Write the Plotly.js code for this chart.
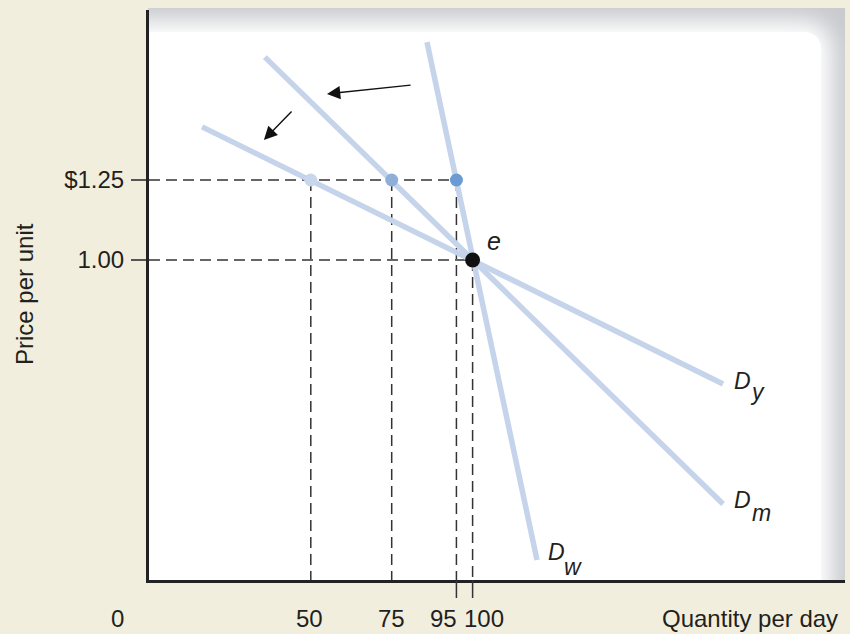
<!DOCTYPE html>
<html>
<head>
<meta charset="utf-8">
<script src="https://cdn.plot.ly/plotly-3.0.1.min.js"></script>
<style>
  html, body { margin: 0; padding: 0; background: #f2eedd; }
  #wrap { position: relative; width: 850px; height: 634px; overflow: hidden; background: #f2eedd; }
  #panel { position: absolute; left: 148px; top: 8px; width: 697px; height: 574px; background: #c9cbcf; overflow: hidden; }
  #inner { position: absolute; left: -60px; top: 24px; right: 24px; bottom: -60px; background: #fff;
           border-top-right-radius: 16px; box-shadow: 0 0 22px 11px #fff; }
  #chart { position: absolute; left: 0; top: 0; width: 850px; height: 634px; }
</style>
</head>
<body>
<div id="wrap">
  <div id="panel"><div id="inner"></div></div>
  <div id="chart"></div>
</div>
<script>
// Demand curves (quantity, price) endpoints
const dyX = [16.4, 177.4], dyY = [1.416, 0.6125];
const dmX = [35.8, 177.4], dmY = [1.634, 0.2375];
const dwX = [85.9, 119.9], dwY = [1.681, 0.0625];
// Points at the higher price
const highQ = [50, 75, 95];
const highP = [1.25, 1.25, 1.25];
const highColors = ['#c9d7ec', '#8fafd9', '#6a9bd2'];
// Equilibrium point e
const eqQ = [100], eqP = [1.00];
// Tick labels
const xTickVals = [0, 50, 75, 95, 100];
const xTickText = ['0', '50', '75', '95', '100'];
const yTickVals = [1.00, 1.25];
const yTickText = ['1.00', '$1.25'];
// Curve labels
const curveNames = ['D', 'D', 'D'];
const curveSubs = ['y', 'm', 'w'];
// Arrows (head, tail) in data units
const arrowHeadX = [55.0, 35.5], arrowHeadY = [1.519, 1.375];
const arrowTailX = [81.3, 44.5], arrowTailY = [1.547, 1.469];

const curveColor = '#c5d4ea';
const font = '"Liberation Sans", Arial, sans-serif';
const txtColor = '#231f20';

// dashed guide lines
const gx = [], gy = [];
gx.push(0, Math.max(...highQ), null); gy.push(highP[0], highP[0], null);
gx.push(0, eqQ[0], null); gy.push(eqP[0], eqP[0], null);
highQ.forEach((q, i) => { gx.push(q, q, null); gy.push(highP[i], 0, null); });
gx.push(eqQ[0], eqQ[0]); gy.push(eqP[0], 0);

const traces = [
  { x: gx, y: gy, mode: 'lines', line: { color: '#333', width: 1.5, dash: '11px,6px' }, hoverinfo: 'skip', cliponaxis: false },
  { x: dyX, y: dyY, mode: 'lines', line: { color: curveColor, width: 5.5 } },
  { x: dmX, y: dmY, mode: 'lines', line: { color: curveColor, width: 5.5 } },
  { x: dwX, y: dwY, mode: 'lines', line: { color: curveColor, width: 5.5 } },
  { x: highQ, y: highP, mode: 'markers', marker: { size: 13, color: highColors } },
  { x: eqQ, y: eqP, mode: 'markers', marker: { size: 15, color: '#111' } }
];

const xLabelShift = [-32, -1, 0, -13, 11];
const annotations = [];
const axFont = { family: font, size: 24, color: txtColor };
xTickVals.forEach((v, i) => {
  annotations.push({ x: v, xref: 'x', y: -38 / 570, yref: 'paper', text: xTickText[i], showarrow: false,
    xshift: xLabelShift[i], xanchor: 'center', yanchor: 'middle', font: axFont });
});
annotations.push({ x: (750 - 149) / 696, xref: 'paper', y: -38 / 570, yref: 'paper', text: 'Quantity per day',
  showarrow: false, xanchor: 'center', yanchor: 'middle', font: axFont });
annotations.push({ x: (24 - 149) / 696, xref: 'paper', y: (580 - 294) / 570, yref: 'paper', text: 'Price per unit',
  textangle: -90, showarrow: false, xanchor: 'center', yanchor: 'middle', font: axFont });
// arrows
arrowHeadX.forEach((hx, i) => {
  annotations.push({ x: hx, y: arrowHeadY[i], xref: 'x', yref: 'y', ax: arrowTailX[i], ay: arrowTailY[i],
    axref: 'x', ayref: 'y', text: '', showarrow: true, arrowhead: 2, arrowsize: 1.9, arrowwidth: 1.4,
    arrowcolor: '#111', standoff: 0 });
});
// curve labels
const lblFont = { family: font, size: 23, color: txtColor };
annotations.push({ x: eqQ[0], y: eqP[0], text: '<i>e</i>', showarrow: false, xanchor: 'left', yanchor: 'middle',
  xshift: 12, yshift: 19, font: { family: font, size: 25, color: txtColor } });
const ends = [[dyX[1], dyY[1]], [dmX[1], dmY[1]], [dwX[1], dwY[1]]];
const dShift = [[9, 3], [9, 4], [9, 8]];
const sShift = [[25, -8], [27, -9], [25, -7]];
ends.forEach((e, i) => {
  annotations.push({ x: e[0], y: e[1], text: '<i>' + curveNames[i] + '</i>', showarrow: false, xanchor: 'left', yanchor: 'middle',
    xshift: dShift[i][0], yshift: dShift[i][1], font: lblFont });
  annotations.push({ x: e[0], y: e[1], text: '<i>' + curveSubs[i] + '</i>', showarrow: false, xanchor: 'left', yanchor: 'middle',
    xshift: sShift[i][0], yshift: sShift[i][1], font: lblFont });
});

// extension ticks below axis at 95 and 100
const shapes = [95, 100].map(q => ({ type: 'line', xref: 'x', yref: 'paper', x0: q, x1: q, y0: 0, y1: -18 / 570,
  line: { color: '#333', width: 1.5 } }));

const layout = {
  width: 850, height: 634,
  margin: { l: 149, r: 5, t: 10, b: 54 },
  paper_bgcolor: 'rgba(0,0,0,0)', plot_bgcolor: 'rgba(0,0,0,0)',
  showlegend: false,
  xaxis: { range: [0, 696 / 3.236], showgrid: false, zeroline: false, showline: true, linecolor: '#222', linewidth: 3,
    ticks: '', showticklabels: false, fixedrange: true },
  yaxis: { range: [0, 570 / 320], showgrid: false, zeroline: false, showline: true, linecolor: '#222', linewidth: 3,
    tickvals: yTickVals, ticktext: yTickText, ticks: 'outside', ticklen: 15, tickwidth: 1.5, tickcolor: '#555',
    ticklabelstandoff: 2, tickfont: axFont, fixedrange: true },
  annotations: annotations,
  shapes: shapes
};

Plotly.newPlot('chart', traces, layout, { displayModeBar: false, staticPlot: true });
</script>
</body>
</html>
